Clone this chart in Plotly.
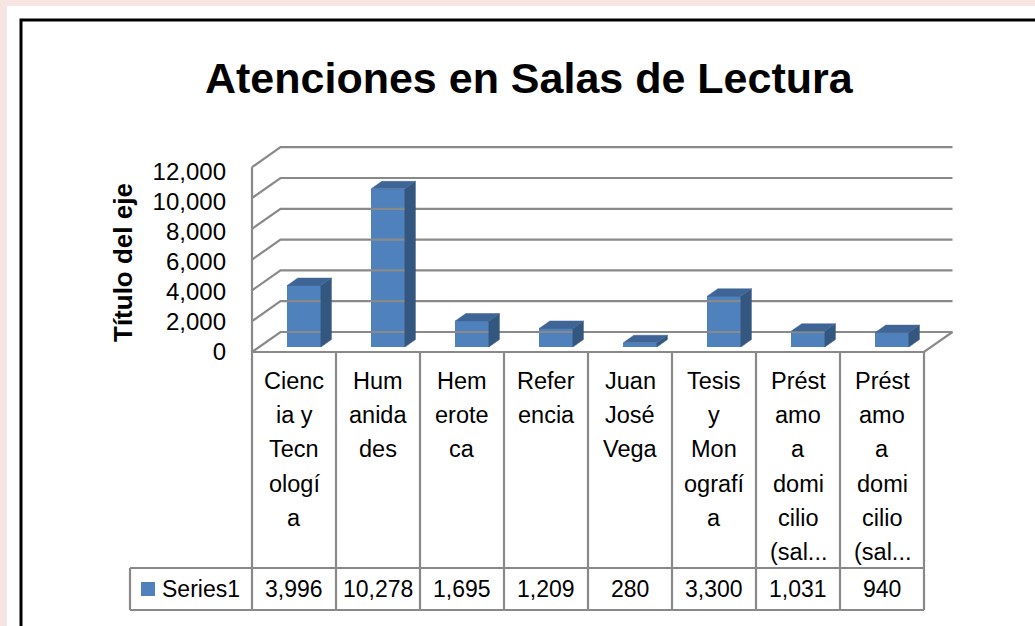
import plotly.graph_objects as go

# ---------------- data ----------------
category_labels = [
    ["Cienc", "ia y", "Tecn", "ologí", "a"],
    ["Hum", "anida", "des"],
    ["Hem", "erote", "ca"],
    ["Refer", "encia"],
    ["Juan", "José", "Vega"],
    ["Tesis", "y", "Mon", "ografí", "a"],
    ["Prést", "amo", "a", "domi", "cilio", "(sal..."],
    ["Prést", "amo", "a", "domi", "cilio", "(sal..."],
]
values = [3996, 10278, 1695, 1209, 280, 3300, 1031, 940]
y_ticks = [0, 2000, 4000, 6000, 8000, 10000, 12000]
series_name = "Series1"
chart_title = "Atenciones en Salas de Lectura"
axis_title = "Título del eje"

# ---------------- layout geometry ----------------
W, H = 1035, 626
X0_PX, CAT_PX = 252, 84          # front floor left edge, category width (px)
Y0_PX, PX_PER_UNIT = 352, 0.0154  # front floor baseline, px per value unit
LBL_PX_PER_UNIT = 0.0150          # tick-label spacing (slightly tighter, as in Excel)
DEPTH_PX_X, DEPTH_PX_Y = 28.5, 20  # oblique depth offsets (px)
DX = DEPTH_PX_X / CAT_PX
DV = DEPTH_PX_Y / PX_PER_UNIT
N = len(values)
VMAX = y_ticks[-1]

x_range = [-X0_PX / CAT_PX, (W - X0_PX) / CAT_PX]
y_range = [(Y0_PX - H) / PX_PER_UNIT, Y0_PX / PX_PER_UNIT]
y2_range = [(Y0_PX - H) / LBL_PX_PER_UNIT, Y0_PX / LBL_PX_PER_UNIT]


def proj(x, v, d):
    return x + DX * d, v + DV * d


def py2paper(py):
    return 1 - py / H


def px2x(px):
    return (px - X0_PX) / CAT_PX


GRID = "#898989"
FRONT = "#4F81BD"
SIDE = "#34577F"
TOP = "#3E6595"
FONT = "Liberation Sans, Arial, sans-serif"

fig = go.Figure()

# ---------------- walls / gridlines ----------------
gx, gy = [], []
for t in y_ticks:
    for (x, d) in [(0, 0), (0, 1), (N, 1)]:
        px_, pv_ = proj(x, t, d)
        gx.append(px_)
        gy.append(pv_)
    gx.append(None)
    gy.append(None)
# front left vertical edge
for v in [0, VMAX]:
    a, b = proj(0, v, 0)
    gx.append(a); gy.append(b)
gx.append(None); gy.append(None)
# floor front edge and right diagonal
for (x, d) in [(0, 0), (N, 0), (N, 1)]:
    a, b = proj(x, 0, d)
    gx.append(a); gy.append(b)
fig.add_trace(go.Scatter(x=gx, y=gy, mode="lines", line=dict(color=GRID, width=2.2),
                         hoverinfo="skip", showlegend=False))

# ---------------- 3D bars ----------------
BX0, BX1 = 0.335, 0.735
D0, D1 = 0.25, 0.62
for i, v in enumerate(values):
    x0, x1 = i + BX0, i + BX1
    # side face
    pts = [(x1, 0, D0), (x1, 0, D1), (x1, v, D1), (x1, v, D0), (x1, 0, D0)]
    xs, ys = zip(*[proj(*p) for p in pts])
    fig.add_trace(go.Scatter(x=xs, y=ys, fill="toself", fillcolor=SIDE, mode="lines",
                             line=dict(color=SIDE, width=0.5), hoverinfo="skip", showlegend=False))
    # top face
    pts = [(x0, v, D0), (x1, v, D0), (x1, v, D1), (x0, v, D1), (x0, v, D0)]
    xs, ys = zip(*[proj(*p) for p in pts])
    fig.add_trace(go.Scatter(x=xs, y=ys, fill="toself", fillcolor=TOP, mode="lines",
                             line=dict(color=TOP, width=0.5), hoverinfo="skip", showlegend=False))

# front faces as bars
centers = [proj(i + (BX0 + BX1) / 2, 0, D0)[0] for i in range(N)]
fig.add_trace(go.Bar(x=centers, y=values, base=[DV * D0] * N, width=BX1 - BX0,
                     marker=dict(color=FRONT, line=dict(width=0)), name=series_name,
                     showlegend=False))

# invisible trace carrying the tick-label axis
fig.add_trace(go.Scatter(x=[0], y=[0], yaxis="y2", mode="markers", marker=dict(opacity=0),
                         hoverinfo="skip", showlegend=False))

# ---------------- data table ----------------
shapes = []
# page background & frame
shapes.append(dict(type="rect", xref="paper", yref="paper", x0=7 / W, x1=1.01,
                   y0=-0.01, y1=py2paper(6), fillcolor="white", line=dict(width=0), layer="below"))
shapes.append(dict(type="rect", xref="paper", yref="paper", x0=21 / W, x1=1.02,
                   y0=-0.02, y1=py2paper(20), fillcolor="white",
                   line=dict(color="black", width=3), layer="below"))

HDR_TOP, HDR_BOT, ROW_BOT = 352, 568, 610
LEG_LEFT = px2x(130)
TB = dict(color=GRID, width=2.2)
for i in range(N + 1):
    shapes.append(dict(type="line", xref="x", yref="paper", x0=i, x1=i,
                       y0=py2paper(HDR_TOP), y1=py2paper(ROW_BOT), line=TB))
for py in [HDR_BOT, ROW_BOT]:
    shapes.append(dict(type="line", xref="x", yref="paper", x0=LEG_LEFT, x1=N,
                       y0=py2paper(py), y1=py2paper(py), line=TB))
shapes.append(dict(type="line", xref="x", yref="paper", x0=LEG_LEFT, x1=LEG_LEFT,
                   y0=py2paper(HDR_BOT), y1=py2paper(ROW_BOT), line=TB))
# legend key
shapes.append(dict(type="rect", xref="x", yref="paper", x0=px2x(141), x1=px2x(155),
                   y0=py2paper(596), y1=py2paper(582), fillcolor=FRONT, line=dict(width=0)))

annotations = []
for i, lines in enumerate(category_labels):
    for k, ln in enumerate(lines):
        annotations.append(dict(x=i + 0.5, xref="x", y=py2paper(381 + 34.2 * k), yref="paper",
                                text=ln, showarrow=False, xanchor="center", yanchor="middle",
                                font=dict(family=FONT, size=23.5, color="black")))
for i, v in enumerate(values):
    annotations.append(dict(x=i + 0.5, xref="x", y=py2paper(589), yref="paper",
                            text=f"{v:,}", showarrow=False, xanchor="center", yanchor="middle",
                            font=dict(family=FONT, size=23, color="black")))
annotations.append(dict(x=px2x(160), xref="x", y=py2paper(589), yref="paper", text=series_name,
                        showarrow=False, xanchor="left", yanchor="middle",
                        font=dict(family=FONT, size=23, color="black")))
annotations.append(dict(x=123 / W, xref="paper", y=py2paper(263), yref="paper", text=f"<b>{axis_title}</b>",
                        showarrow=False, textangle=-90, xanchor="center", yanchor="middle",
                        font=dict(family=FONT, size=26, color="black")))
annotations.append(dict(x=529 / W, xref="paper", y=py2paper(78), yref="paper", text=f"<b>{chart_title}</b>",
                        showarrow=False, xanchor="center", yanchor="middle",
                        font=dict(family=FONT, size=43, color="black")))

fig.update_layout(
    width=W, height=H, margin=dict(l=0, r=0, t=0, b=0),
    paper_bgcolor="#F7E5E1", plot_bgcolor="rgba(0,0,0,0)",
    shapes=shapes, annotations=annotations, bargap=0, showlegend=False,
    xaxis=dict(range=x_range, domain=[0, 1], visible=False, fixedrange=True),
    yaxis=dict(range=y_range, domain=[0, 1], showticklabels=False,
               showgrid=False, zeroline=False, showline=False, ticks="", fixedrange=True),
    yaxis2=dict(range=y2_range, domain=[0, 1], overlaying="y", anchor="free", position=226 / W,
                side="left", tickvals=y_ticks, ticktext=[f"{t:,}" for t in y_ticks],
                showgrid=False, zeroline=False, showline=False, ticks="",
                tickfont=dict(family=FONT, size=24, color="black"), fixedrange=True),
)

fig.write_html("out.html", config={"displayModeBar": False},
               post_script="document.body.style.margin='0';document.body.style.overflow='hidden';")
